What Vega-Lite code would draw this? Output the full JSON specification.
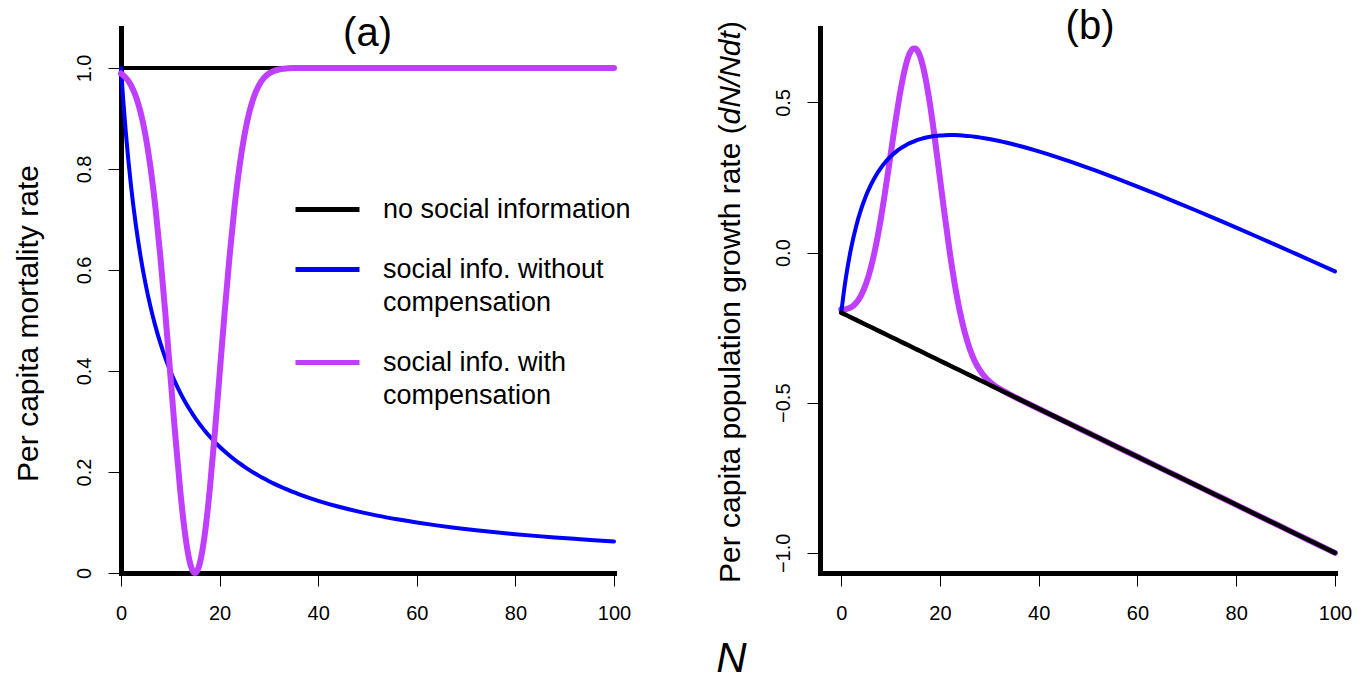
{
  "$schema": "https://vega.github.io/schema/vega-lite/v6.json",
  "background": "white",
  "padding": {"left": 13, "top": 7, "right": 5, "bottom": 0},
  "autosize": {"type": "pad"},
  "config": {
    "font": "Liberation Sans",
    "view": {"stroke": null},
    "axis": {
      "grid": false,
      "domainColor": "black",
      "domainWidth": 5,
      "domainCap": "square",
      "tickColor": "black",
      "tickWidth": 1,
      "tickSize": 13,
      "labelFontSize": 20,
      "labelColor": "black",
      "labelFlush": false,
      "labelOverlap": false,
      "titleColor": "black",
      "titleFontWeight": "normal"
    },
    "axisX": {"labelPadding": 17},
    "axisY": {"labelAngle": -90, "labelAlign": "center", "labelBaseline": "alphabetic", "labelPadding": 18},
    "style": {"guide-label": {"lineHeight": 33}}
  },
  "datasets": {
    "d": [
      {"N":0,"m0":1,"m1":1,"m2":0.9889,"g0":-0.2,"g1":-0.2,"g2":-0.1889},
      {"N":0.5,"m0":1,"m1":0.9302,"m2":0.9851,"g0":-0.204,"g1":-0.1342,"g2":-0.1891},
      {"N":1,"m0":1,"m1":0.8696,"m2":0.9802,"g0":-0.208,"g1":-0.0776,"g2":-0.1882},
      {"N":2,"m0":1,"m1":0.7692,"m2":0.966,"g0":-0.216,"g1":0.0148,"g2":-0.182},
      {"N":3,"m0":1,"m1":0.6897,"m2":0.9439,"g0":-0.224,"g1":0.0863,"g2":-0.1679},
      {"N":4,"m0":1,"m1":0.625,"m2":0.9111,"g0":-0.232,"g1":0.143,"g2":-0.1431},
      {"N":5,"m0":1,"m1":0.5714,"m2":0.8647,"g0":-0.24,"g1":0.1886,"g2":-0.1047},
      {"N":6,"m0":1,"m1":0.5263,"m2":0.8021,"g0":-0.248,"g1":0.2257,"g2":-0.0501},
      {"N":7,"m0":1,"m1":0.4878,"m2":0.722,"g0":-0.256,"g1":0.2562,"g2":0.022},
      {"N":8,"m0":1,"m1":0.4545,"m2":0.6247,"g0":-0.264,"g1":0.2815,"g2":0.1113},
      {"N":9,"m0":1,"m1":0.4255,"m2":0.5132,"g0":-0.272,"g1":0.3025,"g2":0.2148},
      {"N":10,"m0":1,"m1":0.4,"m2":0.3935,"g0":-0.28,"g1":0.32,"g2":0.3265},
      {"N":11,"m0":1,"m1":0.3774,"m2":0.2739,"g0":-0.288,"g1":0.3346,"g2":0.4381},
      {"N":12,"m0":1,"m1":0.3571,"m2":0.1647,"g0":-0.296,"g1":0.3469,"g2":0.5393},
      {"N":13,"m0":1,"m1":0.339,"m2":0.0769,"g0":-0.304,"g1":0.357,"g2":0.6191},
      {"N":13.5,"m0":1,"m1":0.3306,"m2":0.044,"g0":-0.308,"g1":0.3614,"g2":0.648},
      {"N":14,"m0":1,"m1":0.3226,"m2":0.0198,"g0":-0.312,"g1":0.3654,"g2":0.6682},
      {"N":14.5,"m0":1,"m1":0.315,"m2":0.005,"g0":-0.316,"g1":0.369,"g2":0.679},
      {"N":15,"m0":1,"m1":0.3077,"m2":0,"g0":-0.32,"g1":0.3723,"g2":0.68},
      {"N":15.5,"m0":1,"m1":0.3008,"m2":0.005,"g0":-0.324,"g1":0.3752,"g2":0.671},
      {"N":16,"m0":1,"m1":0.2941,"m2":0.0198,"g0":-0.328,"g1":0.3779,"g2":0.6522},
      {"N":16.5,"m0":1,"m1":0.2878,"m2":0.044,"g0":-0.332,"g1":0.3802,"g2":0.624},
      {"N":17,"m0":1,"m1":0.2817,"m2":0.0769,"g0":-0.336,"g1":0.3823,"g2":0.5871},
      {"N":18,"m0":1,"m1":0.2703,"m2":0.1647,"g0":-0.344,"g1":0.3857,"g2":0.4913},
      {"N":19,"m0":1,"m1":0.2597,"m2":0.2739,"g0":-0.352,"g1":0.3883,"g2":0.3741},
      {"N":20,"m0":1,"m1":0.25,"m2":0.3935,"g0":-0.36,"g1":0.39,"g2":0.2465},
      {"N":21,"m0":1,"m1":0.241,"m2":0.5132,"g0":-0.368,"g1":0.391,"g2":0.1188},
      {"N":22,"m0":1,"m1":0.2326,"m2":0.6247,"g0":-0.376,"g1":0.3914,"g2":-0.0007},
      {"N":23,"m0":1,"m1":0.2247,"m2":0.722,"g0":-0.384,"g1":0.3913,"g2":-0.106},
      {"N":24,"m0":1,"m1":0.2174,"m2":0.8021,"g0":-0.392,"g1":0.3906,"g2":-0.1941},
      {"N":25,"m0":1,"m1":0.2105,"m2":0.8647,"g0":-0.4,"g1":0.3895,"g2":-0.2647},
      {"N":26,"m0":1,"m1":0.2041,"m2":0.9111,"g0":-0.408,"g1":0.3879,"g2":-0.3191},
      {"N":27,"m0":1,"m1":0.198,"m2":0.9439,"g0":-0.416,"g1":0.386,"g2":-0.3599},
      {"N":28,"m0":1,"m1":0.1923,"m2":0.966,"g0":-0.424,"g1":0.3837,"g2":-0.39},
      {"N":29,"m0":1,"m1":0.1869,"m2":0.9802,"g0":-0.432,"g1":0.3811,"g2":-0.4122},
      {"N":30,"m0":1,"m1":0.1818,"m2":0.9889,"g0":-0.44,"g1":0.3782,"g2":-0.4289},
      {"N":31,"m0":1,"m1":0.177,"m2":0.994,"g0":-0.448,"g1":0.375,"g2":-0.442},
      {"N":32,"m0":1,"m1":0.1724,"m2":0.9969,"g0":-0.456,"g1":0.3716,"g2":-0.4529},
      {"N":33,"m0":1,"m1":0.1681,"m2":0.9985,"g0":-0.464,"g1":0.3679,"g2":-0.4625},
      {"N":34,"m0":1,"m1":0.1639,"m2":0.9993,"g0":-0.472,"g1":0.3641,"g2":-0.4713},
      {"N":35,"m0":1,"m1":0.16,"m2":0.9997,"g0":-0.48,"g1":0.36,"g2":-0.4797},
      {"N":36,"m0":1,"m1":0.1563,"m2":0.9999,"g0":-0.488,"g1":0.3557,"g2":-0.4879},
      {"N":40,"m0":1,"m1":0.1429,"m2":1,"g0":-0.52,"g1":0.3371,"g2":-0.52},
      {"N":44,"m0":1,"m1":0.1316,"m2":1,"g0":-0.552,"g1":0.3164,"g2":-0.552},
      {"N":48,"m0":1,"m1":0.122,"m2":1,"g0":-0.584,"g1":0.294,"g2":-0.584},
      {"N":52,"m0":1,"m1":0.1136,"m2":1,"g0":-0.616,"g1":0.2704,"g2":-0.616},
      {"N":56,"m0":1,"m1":0.1064,"m2":1,"g0":-0.648,"g1":0.2456,"g2":-0.648},
      {"N":60,"m0":1,"m1":0.1,"m2":1,"g0":-0.68,"g1":0.22,"g2":-0.68},
      {"N":64,"m0":1,"m1":0.0943,"m2":1,"g0":-0.712,"g1":0.1937,"g2":-0.712},
      {"N":68,"m0":1,"m1":0.0893,"m2":1,"g0":-0.744,"g1":0.1667,"g2":-0.744},
      {"N":72,"m0":1,"m1":0.0847,"m2":1,"g0":-0.776,"g1":0.1393,"g2":-0.776},
      {"N":76,"m0":1,"m1":0.0806,"m2":1,"g0":-0.808,"g1":0.1114,"g2":-0.808},
      {"N":80,"m0":1,"m1":0.0769,"m2":1,"g0":-0.84,"g1":0.0831,"g2":-0.84},
      {"N":84,"m0":1,"m1":0.0735,"m2":1,"g0":-0.872,"g1":0.0545,"g2":-0.872},
      {"N":88,"m0":1,"m1":0.0704,"m2":1,"g0":-0.904,"g1":0.0256,"g2":-0.904},
      {"N":92,"m0":1,"m1":0.0676,"m2":1,"g0":-0.936,"g1":-0.0036,"g2":-0.936},
      {"N":96,"m0":1,"m1":0.0649,"m2":1,"g0":-0.968,"g1":-0.0329,"g2":-0.968},
      {"N":100,"m0":1,"m1":0.0625,"m2":1,"g0":-1,"g1":-0.0625,"g2":-1}
    ]
  },
  "bounds": "flush",
  "spacing": 206,
  "resolve": {"scale": {"color": "independent"}, "legend": {"color": "independent"}},
  "hconcat": [
    {
      "width": 493,
      "height": 545,
      "title": {"text": "(a)", "fontSize": 40, "fontWeight": "normal", "anchor": "middle", "frame": "group", "baseline": "alphabetic", "offset": -58, "color": "black"},
      "data": {"name": "d"},
      "encoding": {
        "x": {
          "field": "N", "type": "quantitative",
          "scale": {"domain": [0, 100], "nice": false, "zero": false},
          "axis": {"values": [0, 20, 40, 60, 80, 100], "title": "N", "titleFontSize": 42, "titleFontStyle": "italic", "titleX": 610, "titleY": 98, "titleAlign": "center", "titleBaseline": "alphabetic"}
        }
      },
      "layer": [
        {
          "mark": {"type": "line", "strokeWidth": 4, "interpolate": "monotone", "strokeCap": "round"},
          "encoding": {
            "y": {"field": "m0", "type": "quantitative", "scale": {"domain": [0, 1.079], "nice": false, "zero": false},
              "axis": {"values": [0, 0.2, 0.4, 0.6, 0.8, 1], "labelExpr": "datum.value == 0 ? '0' : format(datum.value, '.1f')", "title": "Per capita mortality rate", "titleFontSize": 30, "titleX": -84, "titleY": 295, "titleAlign": "center", "titleBaseline": "alphabetic", "titleAngle": 270}},
            "color": {"datum": "none", "type": "nominal",
              "scale": {"domain": ["none", "without", "with"], "range": ["#000000", "#0000FF", "#BF3EFF"]},
              "legend": {"orient": "none", "legendX": 172, "legendY": 147, "title": null, "symbolType": "stroke", "symbolSize": 4096, "symbolStrokeWidth": 5, "labelFontSize": 27, "labelLimit": 600, "labelOffset": 21, "rowPadding": 12, "padding": 0, "labelBaseline": "middle", "labelColor": "black",
                "labelExpr": "datum.label == 'none' ? 'no social information' : datum.label == 'without' ? ['social info. without', 'compensation'] : ['social info. with', 'compensation']"}}
          }
        },
        {
          "mark": {"type": "line", "strokeWidth": 4, "interpolate": "monotone", "strokeCap": "round"},
          "encoding": {
            "y": {"field": "m1", "type": "quantitative", "scale": {"domain": [0, 1.079], "nice": false, "zero": false}, "axis": {"title": "Per capita mortality rate"}},
            "color": {"datum": "without", "type": "nominal"}
          }
        },
        {
          "mark": {"type": "line", "strokeWidth": 6, "interpolate": "monotone", "strokeCap": "round"},
          "encoding": {
            "y": {"field": "m2", "type": "quantitative", "scale": {"domain": [0, 1.079], "nice": false, "zero": false}, "axis": {"title": "Per capita mortality rate"}},
            "color": {"datum": "with", "type": "nominal"}
          }
        }
      ]
    },
    {
      "width": 515,
      "height": 545,
      "title": {"text": "(b)", "fontSize": 40, "fontWeight": "normal", "anchor": "middle", "frame": "group", "baseline": "alphabetic", "offset": -58, "dx": 12.5, "color": "black"},
      "data": {"name": "d"},
      "encoding": {
        "x": {
          "field": "N", "type": "quantitative",
          "scale": {"domain": [-4.3, 100], "nice": false, "zero": false},
          "axis": {"values": [0, 20, 40, 60, 80, 100], "title": null}
        }
      },
      "layer": [
        {
          "transform": [{"filter": "datum.N == 0"}],
          "mark": {"type": "rule", "color": "black", "strokeWidth": 1.5, "strokeDash": [5, 4]},
          "encoding": {"y": {"datum": 0, "type": "quantitative", "scale": {"domain": [-1.067, 0.748], "nice": false, "zero": false},
            "axis": {"values": [-1, -0.5, 0, 0.5], "format": ".1f", "title": null}}}
        },
        {
          "mark": {"type": "line", "strokeWidth": 6, "interpolate": "monotone", "strokeCap": "round", "color": "#BF3EFF"},
          "encoding": {"y": {"field": "g2", "type": "quantitative"}}
        },
        {
          "mark": {"type": "line", "strokeWidth": 4, "interpolate": "monotone", "strokeCap": "round", "color": "#0000FF"},
          "encoding": {"y": {"field": "g1", "type": "quantitative"}}
        },
        {
          "mark": {"type": "line", "strokeWidth": 4.5, "interpolate": "linear", "strokeCap": "round", "color": "#000000"},
          "encoding": {"y": {"field": "g0", "type": "quantitative"}}
        },
        {
          "transform": [{"filter": "datum.N == 0"}],
          "mark": {"type": "text", "text": "Per capita population growth rate (", "angle": 270, "align": "left", "baseline": "alphabetic", "fontSize": 30, "color": "black"},
          "encoding": {"x": {"datum": -20.5, "type": "quantitative"}, "y": {"datum": -1.1, "type": "quantitative"}}
        },
        {
          "transform": [{"filter": "datum.N == 0"}],
          "mark": {"type": "text", "text": "dN/Ndt", "angle": 270, "align": "left", "baseline": "alphabetic", "fontSize": 30, "fontStyle": "italic", "color": "black"},
          "encoding": {"x": {"datum": -20.5, "type": "quantitative"}, "y": {"datum": 0.4267, "type": "quantitative"}}
        },
        {
          "transform": [{"filter": "datum.N == 0"}],
          "mark": {"type": "text", "text": ")", "angle": 270, "align": "left", "baseline": "alphabetic", "fontSize": 30, "color": "black"},
          "encoding": {"x": {"datum": -20.5, "type": "quantitative"}, "y": {"datum": 0.7379, "type": "quantitative"}}
        }
      ]
    }
  ]
}
